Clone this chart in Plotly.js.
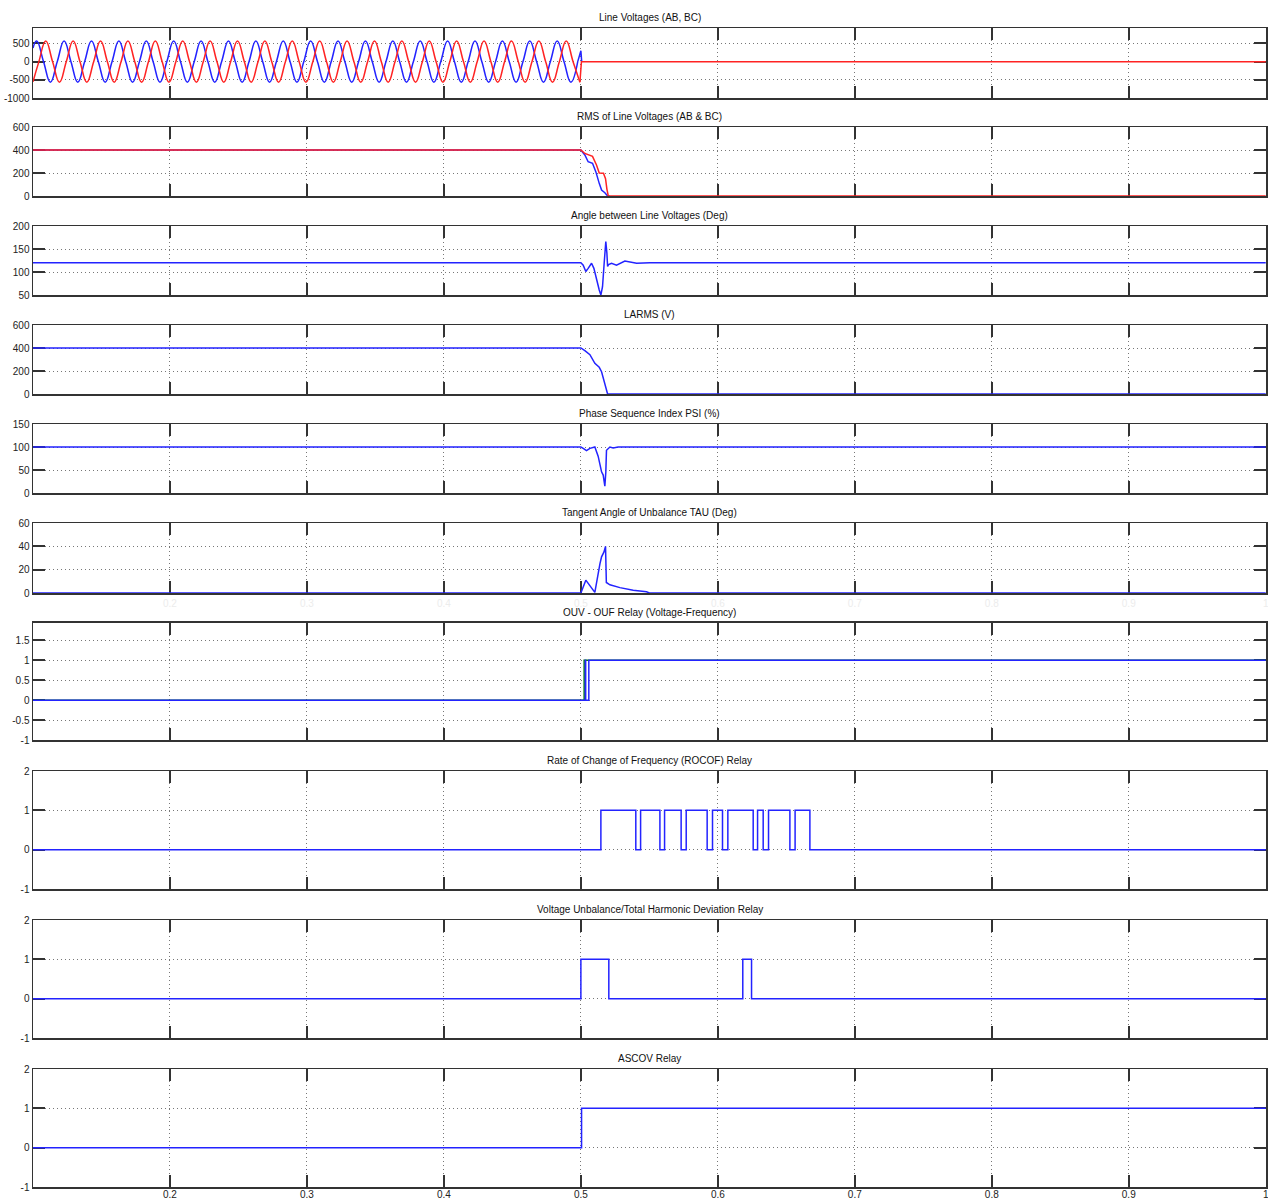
<!DOCTYPE html>
<html><head><meta charset="utf-8">
<script src="https://cdn.plot.ly/plotly-3.0.1.min.js"></script>
<style>html,body{margin:0;padding:0;background:#fff}#chart{width:1268px;height:1200px}</style>
</head><body><div id="chart"></div>
<script>
// ---------- DATA ----------
// Panel 1: line voltages, extremes and zero crossings of each wave (V)
const timeAB = [0.1000,
 0.1027,0.1077,0.1127,0.1177, 0.1227,0.1277,0.1327,0.1377, 0.1427,0.1477,0.1527,0.1577, 0.1627,0.1677,0.1727,0.1777,
 0.1827,0.1877,0.1927,0.1977, 0.2027,0.2077,0.2127,0.2177, 0.2227,0.2277,0.2327,0.2377, 0.2427,0.2477,0.2527,0.2577,
 0.2627,0.2677,0.2727,0.2777, 0.2827,0.2877,0.2927,0.2977, 0.3027,0.3077,0.3127,0.3177, 0.3227,0.3277,0.3327,0.3377,
 0.3427,0.3477,0.3527,0.3577, 0.3627,0.3677,0.3727,0.3777, 0.3827,0.3877,0.3927,0.3977, 0.4027,0.4077,0.4127,0.4177,
 0.4227,0.4277,0.4327,0.4377, 0.4427,0.4477,0.4527,0.4577, 0.4627,0.4677,0.4727,0.4777, 0.4827,0.4877,0.4927,0.4977];
const voltAB = [375,
 565,0,-565,0, 565,0,-565,0, 565,0,-565,0, 565,0,-565,0,
 565,0,-565,0, 565,0,-565,0, 565,0,-565,0, 565,0,-565,0,
 565,0,-565,0, 565,0,-565,0, 565,0,-565,0, 565,0,-565,0,
 565,0,-565,0, 565,0,-565,0, 565,0,-565,0, 565,0,-565,0,
 565,0,-565,0, 565,0,-565,0, 565,0,-565,0, 565,0,-565,0];
const tailTimeAB = [0.4977, 0.5000, 0.5006];
const tailVoltAB = [0, 300, 0];

const timeBC = [0.1000,
 0.1043,0.1093,0.1143,0.1193, 0.1243,0.1293,0.1343,0.1393, 0.1443,0.1493,0.1543,0.1593, 0.1643,0.1693,0.1743,0.1793,
 0.1843,0.1893,0.1943,0.1993, 0.2043,0.2093,0.2143,0.2193, 0.2243,0.2293,0.2343,0.2393, 0.2443,0.2493,0.2543,0.2593,
 0.2643,0.2693,0.2743,0.2793, 0.2843,0.2893,0.2943,0.2993, 0.3043,0.3093,0.3143,0.3193, 0.3243,0.3293,0.3343,0.3393,
 0.3443,0.3493,0.3543,0.3593, 0.3643,0.3693,0.3743,0.3793, 0.3843,0.3893,0.3943,0.3993, 0.4043,0.4093,0.4143,0.4193,
 0.4243,0.4293,0.4343,0.4393, 0.4443,0.4493,0.4543,0.4593, 0.4643,0.4693,0.4743,0.4793, 0.4843,0.4893,0.4943,0.4993];
const voltBC = [-555,
 0,565,0,-565, 0,565,0,-565, 0,565,0,-565, 0,565,0,-565,
 0,565,0,-565, 0,565,0,-565, 0,565,0,-565, 0,565,0,-565,
 0,565,0,-565, 0,565,0,-565, 0,565,0,-565, 0,565,0,-565,
 0,565,0,-565, 0,565,0,-565, 0,565,0,-565, 0,565,0,-565,
 0,565,0,-565, 0,565,0,-565, 0,565,0,-565, 0,565,0,-565];
const tailTimeBC = [0.4993, 0.5004, 1.0];
const tailVoltBC = [-565, 0, 0];

// Panel 2: RMS of line voltages
const rmsTimeAB = [0.1, 0.5, 0.5029, 0.5053, 0.5085, 0.5109, 0.5134, 0.5151, 0.5175, 0.5195, 0.5210];
const rmsAB     = [400, 400, 357, 298, 284, 212, 110, 52, 29, 0, 0];
const rmsTimeBC = [0.1, 0.5, 0.5029, 0.5066, 0.5085, 0.5114, 0.5134, 0.5165, 0.5180, 0.5190, 0.5200, 1.0];
const rmsBC     = [400, 400, 370, 355, 345, 270, 200, 198, 150, 60, 0, 0];

// Panel 3: angle between line voltages (deg)
const angleTime = [0.1, 0.5, 0.5017, 0.5036, 0.5053, 0.5078, 0.5095, 0.5114, 0.5134, 0.5146, 0.5158, 0.5170, 0.5178, 0.5182, 0.5190, 0.5195, 0.5202, 0.5224, 0.5260, 0.5321, 0.5407, 0.5504, 1.0];
const angleVal  = [120, 120, 115, 101, 108, 119, 108, 83, 61, 50, 68, 119, 162, 166, 141, 112, 116, 119, 115, 124, 119, 120, 120];

// Panel 4: LARMS (V)
const larmsTime = [0.1, 0.5, 0.5029, 0.5066, 0.5102, 0.5134, 0.5151, 0.5168, 0.5182, 0.5195, 1.0];
const larmsVal  = [400, 400, 377, 342, 267, 232, 194, 122, 49, 0, 0];

// Panel 5: phase sequence index (%)
const psiTime = [0.1, 0.5, 0.5017, 0.5041, 0.5066, 0.5102, 0.5126, 0.5151, 0.5163, 0.5175, 0.5182, 0.5187, 0.5212, 0.5236, 0.5272, 1.0];
const psiVal  = [100, 100, 97, 92, 97, 100, 80, 46, 39, 15, 45, 93, 100, 98, 100, 100];

// Panel 6: tangent angle of unbalance (deg)
const tauTime = [0.1, 0.5, 0.5036, 0.5066, 0.5102, 0.5139, 0.5151, 0.5168, 0.5180, 0.5186, 0.5212, 0.5285, 0.5382, 0.5479, 0.5500, 1.0];
const tauVal  = [0, 0, 11, 6, 0.5, 25, 31, 35, 40, 9, 7, 4.6, 2.3, 1.1, 0, 0];

// Panel 7: OUV - OUF relay (step signals, value held until next time)
const ouvGreenTime = [0.1, 0.5024, 1.0];
const ouvGreen     = [0, 1, 1];
const ouvBlueTime  = [0.1, 0.5032, 0.5035, 0.5058, 1.0];
const ouvBlue      = [0, 1, 0, 1, 1];

// Panel 8: ROCOF relay
const rocofTime = [0.1, 0.5146, 0.5401, 0.5436, 0.5577, 0.5611, 0.5732, 0.5769, 0.5922, 0.5961, 0.6034, 0.6073, 0.6258, 0.6290, 0.6331, 0.6370, 0.6526, 0.6564, 0.6672, 1.0];
const rocofVal  = [0, 1, 0, 1, 0, 1, 0, 1, 0, 1, 0, 1, 0, 1, 0, 1, 0, 1, 0, 0];

// Panel 9: voltage unbalance / THD relay
const vuTime = [0.1, 0.5, 0.5204, 0.6182, 0.6246, 1.0];
const vuVal  = [0, 1, 0, 1, 0, 0];

// Panel 10: ASCOV relay
const ascovTime = [0.1, 0.5005, 1.0];
const ascovVal  = [0, 1, 1];

// Titles and ticks
const panelTitles = [
  'Line Voltages (AB, BC)',
  'RMS of Line Voltages (AB & BC)',
  'Angle between Line Voltages (Deg)',
  'LARMS (V)',
  'Phase Sequence Index PSI (%)',
  'Tangent Angle of Unbalance TAU (Deg)',
  'OUV - OUF Relay (Voltage-Frequency)',
  'Rate of Change of Frequency (ROCOF) Relay',
  'Voltage Unbalance/Total Harmonic Deviation Relay',
  'ASCOV Relay'
];
const yTicks1 = [-1000, -500, 0, 500];
const yTicks2 = [0, 200, 400, 600];
const yTicks3 = [50, 100, 150, 200];
const yTicks4 = [0, 200, 400, 600];
const yTicks5 = [0, 50, 100, 150];
const yTicks6 = [0, 20, 40, 60];
const yTicks7 = [-1, -0.5, 0, 0.5, 1, 1.5];
const yTicksRelay = [-1, 0, 1, 2];
const xTickVals = [0.2, 0.3, 0.4, 0.5, 0.6, 0.7, 0.8, 0.9, 1.0];
const xTickText = ['0.2', '0.3', '0.4', '0.5', '0.6', '0.7', '0.8', '0.9', '1'];

// ---------- LAYOUT / STYLE ----------
const W = 1268, H = 1200;
const boxes = [[28,98],[127,196],[226,295],[325,394],[424,493],[523,593],[622.7,740.3],[771,889],[920,1038],[1069,1187]];
const yRanges = [[-1000,925],[0,600],[50,200],[0,600],[0,150],[0,60],[-1,1.94],[-1,2],[-1,2],[-1,2]];
const yTickSets = [yTicks1,yTicks2,yTicks3,yTicks4,yTicks5,yTicks6,yTicks7,yTicksRelay,yTicksRelay,yTicksRelay];
const BLUE = 'rgb(35,35,255)', RED = 'rgb(255,35,35)', GREEN = 'rgb(0,130,0)';
const FONT = 'Liberation Sans, Arial, sans-serif';

function ax(n){ return n === 1 ? '' : String(n); }
function tr(n, x, y, color, shape){
  const line = {color: color, width: 1.5, shape: shape};
  if (shape === 'spline') line.smoothing = 1.3;
  return {type:'scatter', mode:'lines', x:x, y:y, xaxis:'x'+ax(n), yaxis:'y'+ax(n),
    line: line, hoverinfo:'skip', showlegend:false, cliponaxis:true};
}

const traces = [
  tr(1, timeAB, voltAB, BLUE, 'spline'),
  tr(1, tailTimeAB, tailVoltAB, BLUE, 'linear'),
  tr(1, timeBC, voltBC, RED, 'spline'),
  tr(1, tailTimeBC, tailVoltBC, RED, 'linear'),
  tr(2, rmsTimeAB, rmsAB, BLUE, 'linear'),
  tr(2, rmsTimeBC, rmsBC, RED, 'linear'),
  tr(3, angleTime, angleVal, BLUE, 'linear'),
  tr(4, larmsTime, larmsVal, BLUE, 'linear'),
  tr(5, psiTime, psiVal, BLUE, 'linear'),
  tr(6, tauTime, tauVal, BLUE, 'linear'),
  tr(7, ouvGreenTime, ouvGreen, GREEN, 'hv'),
  tr(7, ouvBlueTime, ouvBlue, BLUE, 'hv'),
  tr(8, rocofTime, rocofVal, BLUE, 'hv'),
  tr(9, vuTime, vuVal, BLUE, 'hv'),
  tr(10, ascovTime, ascovVal, BLUE, 'hv')
];

const layout = {
  width: W, height: H,
  margin: {l: 33, r: 2, t: 0, b: 0},
  paper_bgcolor: '#fff', plot_bgcolor: '#fff',
  font: {family: FONT, size: 10, color: '#222'},
  showlegend: false,
  annotations: []
};

const common = {
  ticks: 'inside', ticklen: 12, tickwidth: 2, tickcolor: '#333',
  showline: true, linecolor: '#333', linewidth: 1.5, mirror: 'ticks',
  showgrid: true, gridcolor: '#777', gridwidth: 1, griddash: '1px,3px',
  zeroline: false, fixedrange: true, layer: 'below traces',
  tickfont: {family: FONT, size: 10, color: '#222'}
};

for (let i = 0; i < 10; i++) {
  const n = i + 1;
  const top = boxes[i][0], bottom = boxes[i][1];
  const dom = [1 - bottom / H, 1 - top / H];
  const xa = Object.assign({}, common, {
    domain: [0, 1], range: [0.1, 1.0002], anchor: 'y' + ax(n),
    tickmode: 'array', tickvals: xTickVals, ticktext: xTickText,
    showticklabels: (n === 10 || n === 6), ticklabeloverflow: 'allow'
  });
  if (n === 6) xa.tickfont = {family: FONT, size: 10, color: '#ececec'};
  if (n === 10) xa.ticklabelstandoff = -3;
  const ya = Object.assign({}, common, {
    domain: dom, range: yRanges[i], anchor: 'x' + ax(n),
    tickmode: 'array', tickvals: yTickSets[i], ticktext: yTickSets[i].map(v => String(v))
  });
  layout['xaxis' + ax(n)] = xa;
  layout['yaxis' + ax(n)] = ya;
  layout.annotations.push({
    text: panelTitles[i], xref: 'paper', yref: 'paper', x: 0.5, y: dom[1],
    xanchor: 'center', yanchor: 'bottom', yshift: 3, showarrow: false,
    font: {family: FONT, size: 10, color: '#111'}
  });
}

Plotly.newPlot('chart', traces, layout, {staticPlot: true, displayModeBar: false});
</script>
</body></html>
